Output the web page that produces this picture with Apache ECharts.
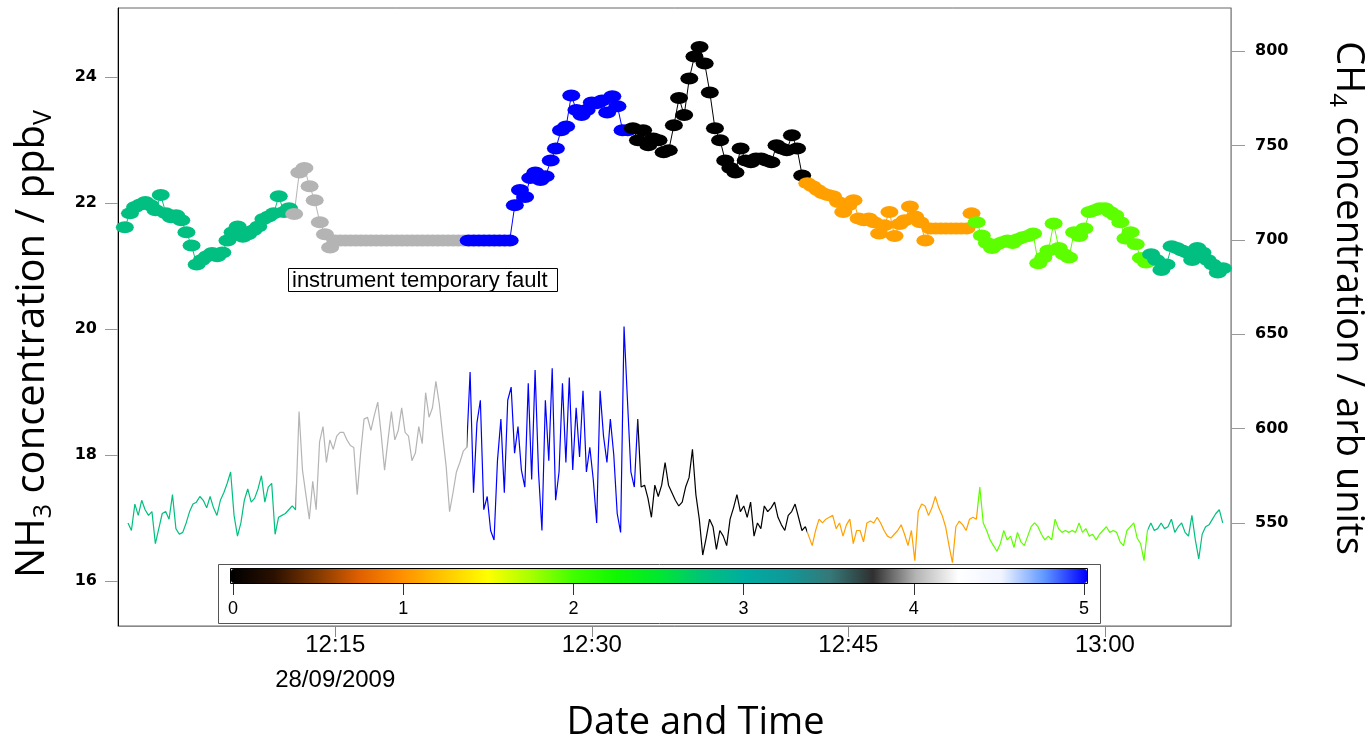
<!DOCTYPE html>
<html>
<head>
<meta charset="utf-8">
<script src="https://cdn.jsdelivr.net/npm/echarts@6/dist/echarts.min.js"></script>
<style>
html, body { margin: 0; padding: 0; background: #fff; }
#chart { width: 1365px; height: 742px; }
</style>
</head>
<body>
<div id="chart"></div>
<script>
// time in minutes after midnight, 28/09/2009
var xTicks = [735, 750, 765, 780];
var nh3Ticks = [16, 18, 20, 22, 24];
var ch4Ticks = [550, 600, 650, 700, 750, 800];

// colour scale 0..5 (stops every 0.25)
var cmap = ['#000000', '#2a1000', '#803800', '#e06000', '#ff9000', '#ffc800', '#ffff00',
  '#a8ff00', '#40ff00', '#10f800', '#00e830', '#00c478', '#00aca0', '#109898', '#357878',
  '#303030', '#b4b4b4', '#ffffff', '#f0f4ff', '#6098ff', '#0000ff'];

// 10 minute periods and their colour value
var segValues = [2.8, 4.0, 5.0, 0.0, 1.07, 1.93, 2.8];
var markerBounds = [732.55, 742.65, 752.35, 762.55, 772.45, 782.45];
var lineBounds = [732.7, 742.7, 752.7, 762.6, 772.6, 782.5];

// NH3 (left axis), sampled every 0.3 min
var nh3Start = 722.7, nh3Step = 0.3;
var nh3 = [21.62, 21.84, 21.94, 21.98, 22.02, 21.97, 21.89, 22.13, 21.84, 21.78, 21.81, 21.73, 21.54,
  21.33, 21.03, 21.10, 21.16, 21.21, 21.16, 21.22, 21.41, 21.54, 21.63, 21.47, 21.51, 21.57, 21.63,
  21.75, 21.79, 21.84, 22.11, 21.86, 21.92,
  21.83, 22.49, 22.56, 22.27, 22.05, 21.70, 21.51, 21.30,
  21.41, 21.41, 21.41, 21.41, 21.41, 21.41, 21.41, 21.41, 21.41, 21.41, 21.41, 21.41, 21.41,
  21.41, 21.41, 21.41, 21.41, 21.41, 21.41, 21.41, 21.41, 21.41, 21.41, 21.41, 21.41, 21.41,
  21.41, 21.41, 21.41, 21.41, 21.41, 21.41, 21.41, 21.41, 21.41,
  21.97, 22.21, 22.10, 22.40, 22.49, 22.37, 22.43, 22.68, 22.87, 23.16, 23.22, 23.71, 23.48,
  23.40, 23.48, 23.60, 23.59, 23.63, 23.44, 23.70, 23.54, 23.16, 23.16,
  23.19, 23.00, 23.16, 22.92, 23.03, 23.00, 22.81, 22.84, 23.24, 23.67, 23.40, 23.98, 24.33,
  24.48, 24.22, 23.76, 23.19, 23.00, 22.68, 22.56, 22.49, 22.87, 22.68, 22.65, 22.71, 22.71,
  22.68, 22.65, 22.92, 22.87, 22.84, 23.08, 22.87, 22.44,
  22.32, 22.27, 22.21, 22.16, 22.13, 22.11, 22.02, 21.86, 21.97, 22.05, 21.76, 21.73, 21.76,
  21.70, 21.52, 21.65, 21.86, 21.48, 21.67, 21.73, 21.95, 21.79, 21.70, 21.41,
  21.60, 21.60, 21.60, 21.60, 21.60, 21.60, 21.60, 21.60, 21.84,
  21.70, 21.49, 21.37, 21.29, 21.35, 21.38, 21.41, 21.37, 21.43, 21.46, 21.48, 21.52, 21.05,
  21.14, 21.25, 21.68, 21.29, 21.19, 21.14, 21.54, 21.48, 21.60, 21.86, 21.89, 21.92, 21.92,
  21.86, 21.81, 21.70, 21.44, 21.54, 21.35, 21.13, 21.06,
  21.19, 21.10, 20.94, 21.03, 21.32, 21.29, 21.25, 21.22, 21.10, 21.29, 21.22, 21.10, 21.03,
  20.90, 20.97];

// CH4 (right axis), sampled every 0.2 min
var ch4Start = 722.885, ch4Step = 0.2;
var ch4 = [550, 546, 560, 554, 562, 557, 554, 556, 539, 547, 555, 556, 552, 565, 547, 544, 545,
  550, 556, 560, 561, 564, 562, 558, 564, 558, 554, 562, 566, 571, 577, 554, 543, 550, 562, 568,
  561, 563, 568, 575, 561, 569, 571, 544, 553, 554, 555, 557, 559, 557,
  609, 578, 565, 552, 572, 557, 593, 601, 582, 594, 589, 596, 598, 598, 594, 591, 590, 565, 587,
  605, 606, 599, 607, 614, 597, 578, 594, 609, 594, 599, 611, 598, 596, 583, 587, 601, 592, 619,
  606, 611, 625, 613, 596, 580, 556, 566, 577, 582, 588, 590,
  630, 566, 603, 615, 557, 564, 546, 541, 583, 605, 566, 615, 622, 587, 601, 578, 569, 624, 573,
  631, 577, 546, 615, 583, 632, 562, 577, 624, 582, 627, 578, 611, 585, 620, 577, 590, 573, 550,
  620, 596, 582, 605, 586, 555, 545, 654, 615, 577, 569, 605,
  569, 570, 563, 553, 570, 564, 570, 582, 570, 566, 562, 559, 561, 569, 574, 589, 565, 552, 533,
  542, 552, 548, 536, 546, 543, 538, 552, 558, 565, 556, 559, 553, 561, 543, 550, 547, 559, 556,
  558, 561, 553, 549, 546, 554, 556, 560, 553, 546, 548,
  543, 538, 546, 552, 550, 552, 553, 554, 547, 550, 543, 549, 552, 539, 546, 546, 540, 550, 551,
  550, 553, 550, 546, 543, 542, 544, 546, 549, 544, 538, 546, 530, 556, 560, 559, 554, 558, 564,
  558, 554, 548, 538, 529, 548, 551, 549, 546, 552, 553, 552,
  569, 550, 546, 541, 538, 535, 539, 546, 541, 543, 537, 545, 540, 538, 543, 548, 550, 548, 544,
  541, 543, 541, 552, 547, 545, 546, 545, 546, 545, 550, 545, 547, 543, 544, 541, 544, 546, 548,
  545, 546, 545, 540, 538, 546, 548, 550, 542, 539, 530, 546,
  550, 546, 547, 550, 547, 548, 552, 545, 548, 550, 545, 543, 554, 541, 531, 544, 548, 549, 552,
  555, 557, 550];

function fmtTime(v) {
  var h = Math.floor(v / 60), m = Math.round(v - h * 60);
  return h + ':' + (m < 10 ? '0' : '') + m;
}

function pieces(bounds) {
  var out = [];
  for (var i = 0; i < segValues.length; i++) {
    var p = { color: echarts.color.lerp(segValues[i] / 5, cmap) };
    if (i > 0) p.gte = bounds[i - 1];
    if (i < bounds.length) p.lt = bounds[i];
    out.push(p);
  }
  return out;
}

var nh3Data = nh3.map(function (v, i) { return [nh3Start + i * nh3Step, v]; });
var ch4Data = ch4.map(function (v, i) { return [ch4Start + i * ch4Step, v]; });

var chart = echarts.init(document.getElementById('chart'));
var nameFont = 'Open Sans';
function nameRich(size) {
  return {
    a: { fontFamily: nameFont, fontSize: size, lineHeight: size + 7, color: '#000' },
    s: { fontFamily: nameFont, fontSize: Math.round(size * 0.62), lineHeight: 14, verticalAlign: 'bottom', color: '#000' }
  };
}
var option = {
  animation: false,
  backgroundColor: '#fff',
  grid: [
    { left: 118, right: 134, top: 8, bottom: 116, show: true, borderColor: '#666', borderWidth: 1, outerBoundsMode: 'none' },
    { left: 233, width: 851, top: 569, height: 14, show: false, outerBoundsMode: 'none' }
  ],
  xAxis: [{
    type: 'value', min: 722.3, max: 787.37,
    name: 'Date and Time', nameLocation: 'middle', nameGap: 78,
    nameTextStyle: { fontFamily: nameFont, fontSize: 38, color: '#000', padding: [0, 0, 0, 42] },
    axisLine: { lineStyle: { color: '#888' } },
    axisTick: { customValues: xTicks, length: 11, lineStyle: { color: '#888' } },
    axisLabel: {
      customValues: xTicks, margin: 2, fontSize: 24, lineHeight: 35, color: '#000',
      fontFamily: 'Liberation Sans',
      formatter: function (v) { return v === xTicks[0] ? fmtTime(v) + '\n28/09/2009' : fmtTime(v); }
    },
    splitLine: { show: false }
  }, {
    type: 'value', gridIndex: 1, min: 0, max: 5, interval: 1, z: 6,
    axisLine: { show: false },
    axisTick: { length: 12, lineStyle: { color: '#333' } },
    axisLabel: { fontSize: 18, color: '#000', margin: 17, fontFamily: 'Liberation Sans' },
    splitLine: { show: false }
  }],
  yAxis: [{
    type: 'value', min: 15.29, max: 25.1, position: 'left',
    name: '{a|NH}{s|3}{a| concentration / ppb}{s|V}',
    nameLocation: 'middle', nameRotate: 90, nameGap: 62,
    nameTextStyle: { padding: [0, 54, 0, 0], rich: nameRich(40) },
    axisLine: { show: true, lineStyle: { color: '#000' } },
    axisTick: { customValues: nh3Ticks, length: 13, lineStyle: { color: '#999' } },
    axisLabel: { customValues: nh3Ticks, margin: 21, fontSize: 16, fontWeight: 'bold', color: '#000', fontFamily: 'DejaVu Sans' },
    splitLine: { show: false }
  }, {
    type: 'value', min: 495.4, max: 822.8, position: 'right',
    name: '{a|CH}{s|4}{a| concentration / arb units}',
    nameLocation: 'middle', nameRotate: -90, nameGap: 94,
    nameTextStyle: { padding: [0, 38, 0, 0], rich: nameRich(38) },
    axisLine: { show: true, lineStyle: { color: '#999' } },
    axisTick: { customValues: ch4Ticks, length: 14, lineStyle: { color: '#999' } },
    axisLabel: { customValues: ch4Ticks, margin: 24, fontSize: 16, fontWeight: 'bold', color: '#000', fontFamily: 'DejaVu Sans' },
    splitLine: { show: false }
  }, {
    type: 'value', gridIndex: 1, show: false, min: 0, max: 1
  }],
  visualMap: [{
    type: 'continuous', min: 0, max: 5, seriesIndex: [], orient: 'horizontal',
    left: 231, top: 569, itemWidth: 14, itemHeight: 856, padding: 0,
    calculable: false, hoverLink: false, inRange: { color: cmap }, z: 5
  }, {
    type: 'piecewise', show: false, dimension: 0, seriesIndex: 0, pieces: pieces(markerBounds)
  }, {
    type: 'piecewise', show: false, dimension: 0, seriesIndex: 1, pieces: pieces(lineBounds)
  }],
  graphic: [
    { type: 'rect', z: 3, shape: { x: 218.5, y: 564.5, width: 882, height: 59 }, style: { fill: '#fff', stroke: '#555', lineWidth: 1 } },
    { type: 'rect', z: 10, shape: { x: 230.5, y: 568.5, width: 857, height: 15 }, style: { fill: 'none', stroke: '#000', lineWidth: 1 } },
    { type: 'rect', z: 10, shape: { x: 288.5, y: 268.5, width: 269, height: 23 }, style: { fill: '#fff', stroke: '#000', lineWidth: 1 } },
    { type: 'text', z: 11, x: 292, y: 281, style: { text: 'instrument temporary fault', fontSize: 22, fontFamily: 'Liberation Sans', fill: '#000', verticalAlign: 'middle' } }
  ],
  series: [{
    name: 'NH3', type: 'line', xAxisIndex: 0, yAxisIndex: 0, data: nh3Data,
    symbol: 'circle', symbolSize: [18, 12], showSymbol: true, showAllSymbol: true,
    lineStyle: { width: 1 }, z: 4
  }, {
    name: 'CH4', type: 'line', xAxisIndex: 0, yAxisIndex: 1, data: ch4Data,
    symbol: 'none', showSymbol: false, lineStyle: { width: 1.2 }, z: 2
  }]
};
chart.setOption(option);
</script>
</body>
</html>
